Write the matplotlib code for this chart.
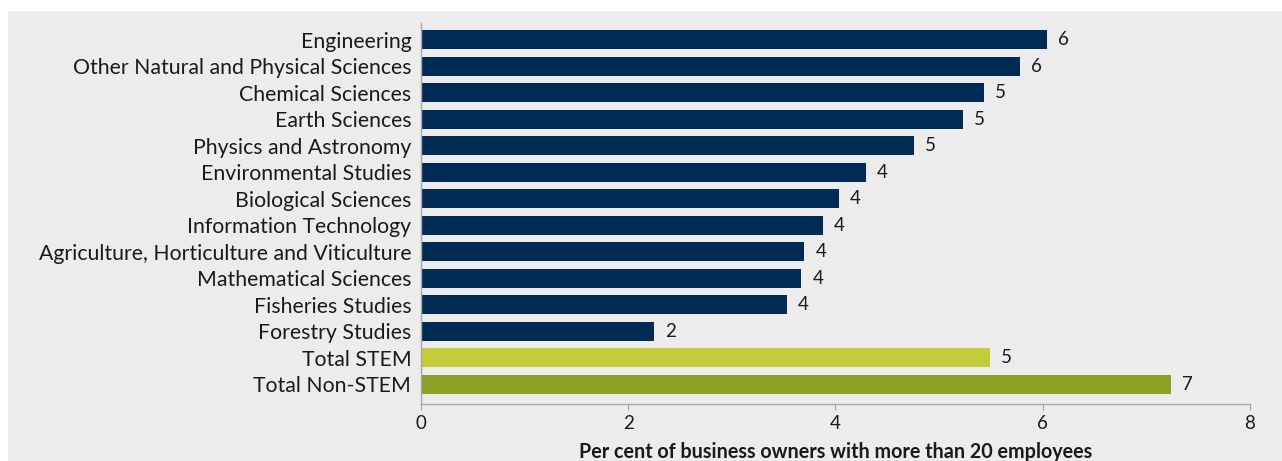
import matplotlib.pyplot as plt
from matplotlib.patches import Rectangle

plt.rcParams['font.family'] = ['Lato', 'DejaVu Sans']

categories = [
    "Engineering",
    "Other Natural and Physical Sciences",
    "Chemical Sciences",
    "Earth Sciences",
    "Physics and Astronomy",
    "Environmental Studies",
    "Biological Sciences",
    "Information Technology",
    "Agriculture, Horticulture and Viticulture",
    "Mathematical Sciences",
    "Fisheries Studies",
    "Forestry Studies",
    "Total STEM",
    "Total Non-STEM",
]
values = [6.04, 5.78, 5.43, 5.23, 4.76, 4.29, 4.03, 3.88, 3.70, 3.67, 3.53, 2.25, 5.49, 7.24]
xticks = [0, 2, 4, 6, 8]
xlabel = "Per cent of business owners with more than 20 employees"

navy = "#002b55"
colors = [navy] * 12 + ["#c3cd3a", "#8ca124"]
bg = "#ececec"

fig = plt.figure(figsize=(12.82, 4.61), dpi=100)
fig.patch.set_facecolor("white")
fig.patches.append(Rectangle((8 / 1282, 0), 1, 1 - 11 / 461, transform=fig.transFigure,
                             facecolor=bg, edgecolor="none", zorder=-1))

ax = fig.add_axes([421 / 1282, 57 / 461, 829 / 1282, 381 / 461])
ax.set_facecolor(bg)

n = len(categories)
ypos = list(range(n - 1, -1, -1))
bars = ax.barh(ypos, values, height=0.72, color=colors)
ax.bar_label(bars, labels=["%.0f" % v for v in values], padding=8, fontsize=13.5, color="#1a1a1a")

ax.set_yticks(ypos)
ax.set_yticklabels(categories, fontsize=15.3, color="#1a1a1a")
ax.tick_params(axis="y", length=0, pad=7)
ax.set_xlim(0, 8)
ax.set_ylim(-0.75, n - 1 + 0.64)
ax.set_xticks(xticks)
ax.set_xticklabels([str(t) for t in xticks], fontsize=13.5, color="#1a1a1a")
ax.tick_params(axis="x", length=4, color="#a0a0a0", pad=4)
ax.set_xlabel(xlabel, fontsize=14.2, fontweight="bold", color="#1a1a1a", labelpad=7)

for side in ["top", "right"]:
    ax.spines[side].set_visible(False)
for side in ["left", "bottom"]:
    ax.spines[side].set_color("#a8a8a8")
    ax.spines[side].set_linewidth(1)

fig.savefig("out.png", dpi=100, facecolor=fig.get_facecolor())
